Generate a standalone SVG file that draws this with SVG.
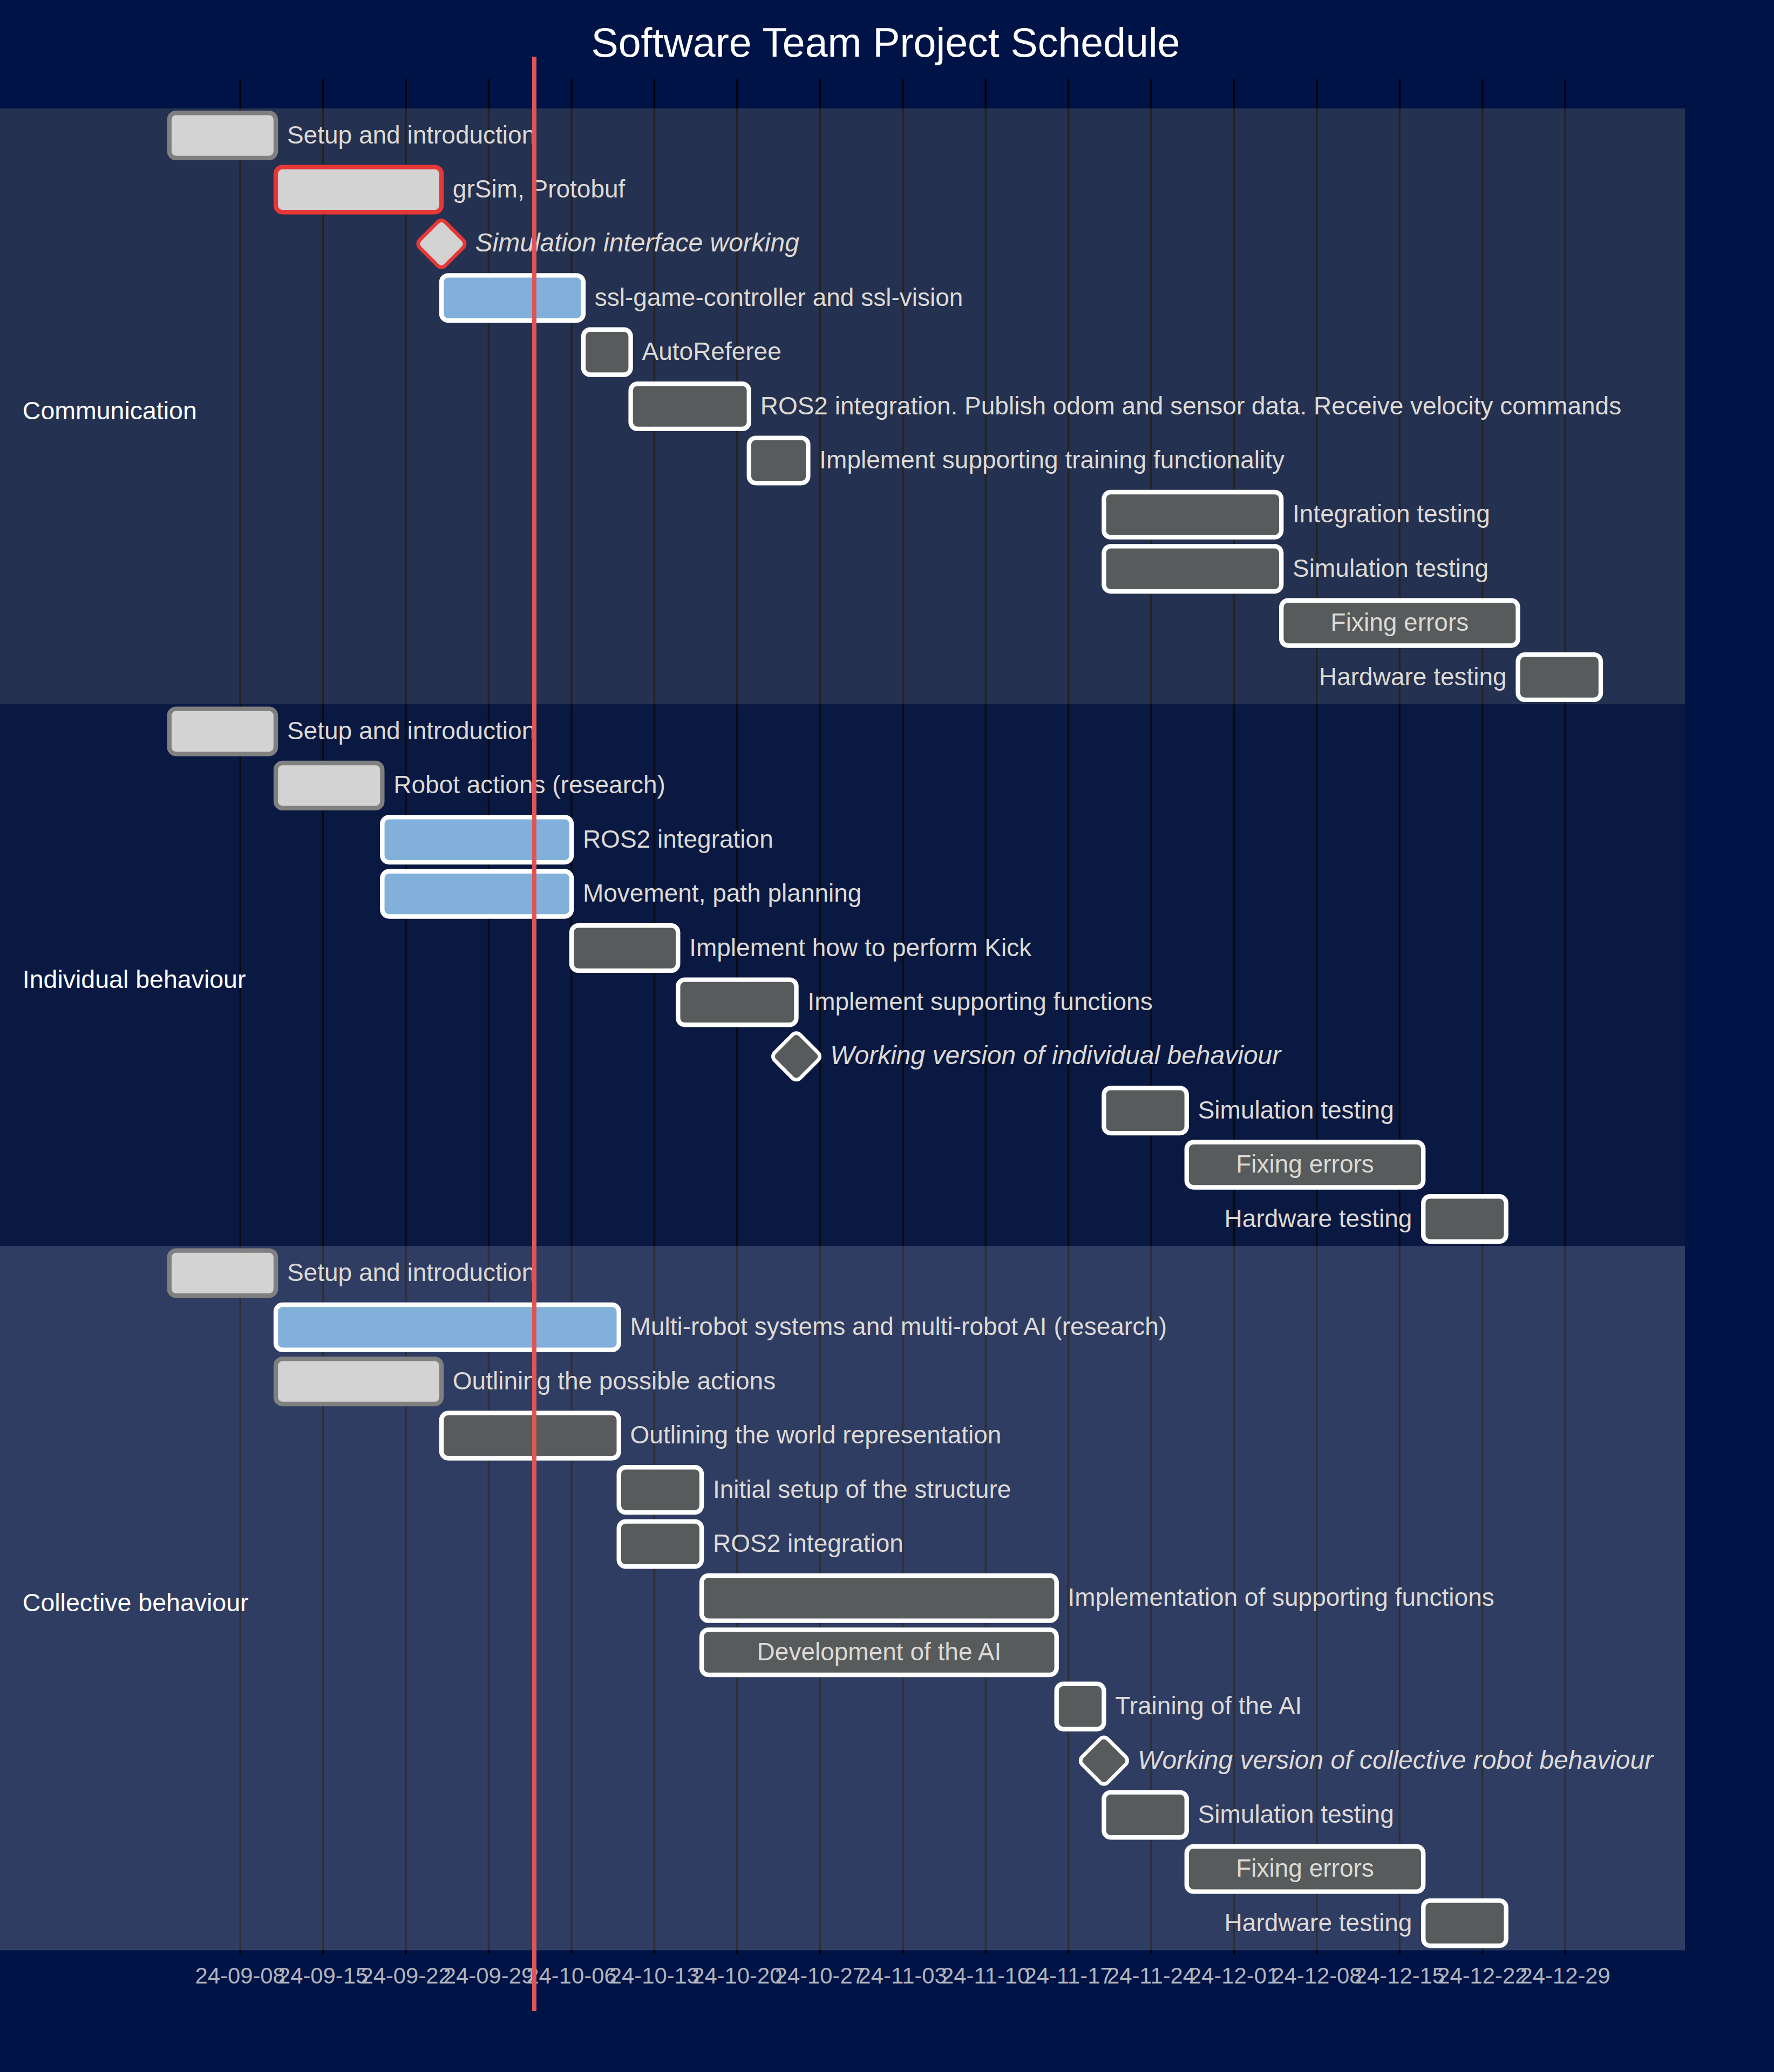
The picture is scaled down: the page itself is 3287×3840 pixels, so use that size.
<svg xmlns="http://www.w3.org/2000/svg" width="3287" height="3840" viewBox="0 0 3287 3840">
<style>
.bg{fill:#001346}
.sec0{fill:#B4AC76;opacity:.2}
.sec1{fill:#333333;opacity:.2}
.sec2{fill:#EAE8D9;opacity:.2}
.grid line{stroke:#000;stroke-opacity:.85;stroke-width:3.5}
.tick{font-family:"Liberation Sans",Arial,sans-serif;font-size:41.8px;fill:#b0b4bc;text-anchor:middle}
.bar{stroke-width:8.37}
.done{fill:#d3d3d3;stroke:#808080}
.critdone{fill:#d3d3d3;stroke:#e83737}
.active{fill:#81b1db;stroke:#ffffff}
.norm{fill:#575b5b;stroke:#ffffff}
.tt{font-family:"Liberation Sans",Arial,sans-serif;font-size:46px;fill:#ddd9d5}
.mt{font-style:italic;font-size:48px}
.in{text-anchor:middle}
.left{text-anchor:end}
.sect{font-family:"Liberation Sans",Arial,sans-serif;font-size:46.5px;fill:#ffffff}
.title{font-family:"Liberation Sans",Arial,sans-serif;font-size:75.3px;fill:#ffffff;text-anchor:middle}
.today{stroke:#db5757;stroke-width:8;fill:none}
</style>
<rect class="bg" x="0" y="0" width="3287" height="3840"/>
<text class="title" x="1641" y="105">Software Team Project Schedule</text>
<g id="grid" class="grid">
<line x1="445.2" y1="146" x2="445.2" y2="3622"/>
<line x1="598.6" y1="146" x2="598.6" y2="3622"/>
<line x1="752.1" y1="146" x2="752.1" y2="3622"/>
<line x1="905.5" y1="146" x2="905.5" y2="3622"/>
<line x1="1059" y1="146" x2="1059" y2="3622"/>
<line x1="1212.4" y1="146" x2="1212.4" y2="3622"/>
<line x1="1365.8" y1="146" x2="1365.8" y2="3622"/>
<line x1="1519.3" y1="146" x2="1519.3" y2="3622"/>
<line x1="1672.7" y1="146" x2="1672.7" y2="3622"/>
<line x1="1826.2" y1="146" x2="1826.2" y2="3622"/>
<line x1="1979.6" y1="146" x2="1979.6" y2="3622"/>
<line x1="2133" y1="146" x2="2133" y2="3622"/>
<line x1="2286.5" y1="146" x2="2286.5" y2="3622"/>
<line x1="2439.9" y1="146" x2="2439.9" y2="3622"/>
<line x1="2593.4" y1="146" x2="2593.4" y2="3622"/>
<line x1="2746.8" y1="146" x2="2746.8" y2="3622"/>
<line x1="2900.2" y1="146" x2="2900.2" y2="3622"/>
</g>
<g id="axis-labels">
<text class="tick" x="445.2" y="3676">24-09-08</text>
<text class="tick" x="598.6" y="3676">24-09-15</text>
<text class="tick" x="752.1" y="3676">24-09-22</text>
<text class="tick" x="905.5" y="3676">24-09-29</text>
<text class="tick" x="1059" y="3676">24-10-06</text>
<text class="tick" x="1212.4" y="3676">24-10-13</text>
<text class="tick" x="1365.8" y="3676">24-10-20</text>
<text class="tick" x="1519.3" y="3676">24-10-27</text>
<text class="tick" x="1672.7" y="3676">24-11-03</text>
<text class="tick" x="1826.2" y="3676">24-11-10</text>
<text class="tick" x="1979.6" y="3676">24-11-17</text>
<text class="tick" x="2133" y="3676">24-11-24</text>
<text class="tick" x="2286.5" y="3676">24-12-01</text>
<text class="tick" x="2439.9" y="3676">24-12-08</text>
<text class="tick" x="2593.4" y="3676">24-12-15</text>
<text class="tick" x="2746.8" y="3676">24-12-22</text>
<text class="tick" x="2900.2" y="3676">24-12-29</text>
</g>
<g id="sections">
<rect class="sec0" x="0" y="200.8" width="3122" height="1104.4"/>
<rect class="sec1" x="0" y="1305.2" width="3122" height="1004"/>
<rect class="sec2" x="0" y="2309.2" width="3122" height="1305.2"/>
</g>
<g id="section-titles">
<text class="sect" x="41.8" y="777">Communication</text>
<text class="sect" x="41.8" y="1831">Individual behaviour</text>
<text class="sect" x="41.8" y="2986">Collective behaviour</text>
</g>
<g id="connectors"></g>
<g id="comm-setup"><rect class="bar done" x="313.7" y="209.2" width="197.3" height="83.66" rx="12.5"/><text class="tt" x="531.9" y="265.6">Setup and introduction</text></g>
<g id="comm-grsim"><rect class="bar critdone" x="511" y="309.6" width="306.9" height="83.66" rx="12.5"/><text class="tt" x="838.8" y="366">grSim, Protobuf</text></g>
<g id="comm-milestone"><rect class="bar critdone" x="776.1" y="410" width="83.66" height="83.66" rx="12.5" transform="translate(817.9 451.8) rotate(45) scale(0.8) translate(-817.9 -451.8)"/><text class="tt mt" x="880.6" y="466.4">Simulation interface working</text></g>
<g id="comm-ssl"><rect class="bar active" x="817.9" y="510.4" width="263" height="83.66" rx="12.5"/><text class="tt" x="1101.8" y="566.8">ssl-game-controller and ssl-vision</text></g>
<g id="comm-autoref"><rect class="bar norm" x="1080.9" y="610.8" width="87.7" height="83.66" rx="12.5"/><text class="tt" x="1189.5" y="667.2">AutoReferee</text></g>
<g id="comm-ros2"><rect class="bar norm" x="1168.6" y="711.2" width="219.2" height="83.66" rx="12.5"/><text class="tt" x="1408.7" y="767.6">ROS2 integration. Publish odom and sensor data. Receive velocity commands</text></g>
<g id="comm-training"><rect class="bar norm" x="1387.8" y="811.6" width="109.6" height="83.66" rx="12.5"/><text class="tt" x="1518.3" y="868">Implement supporting training functionality</text></g>
<g id="comm-integration"><rect class="bar norm" x="2045.4" y="912" width="328.8" height="83.66" rx="12.5"/><text class="tt" x="2395.1" y="968.4">Integration testing</text></g>
<g id="comm-simtest"><rect class="bar norm" x="2045.4" y="1012.4" width="328.8" height="83.66" rx="12.5"/><text class="tt" x="2395.1" y="1068.8">Simulation testing</text></g>
<g id="comm-fixing"><rect class="bar norm" x="2374.2" y="1112.8" width="438.4" height="83.66" rx="12.5"/><text class="tt in" x="2593.4" y="1169.2">Fixing errors</text></g>
<g id="comm-hardware"><rect class="bar norm" x="2812.6" y="1213.2" width="153.4" height="83.66" rx="12.5"/><text class="tt left" x="2791.7" y="1269.6">Hardware testing</text></g>
<g id="ind-setup"><rect class="bar done" x="313.7" y="1313.6" width="197.3" height="83.66" rx="12.5"/><text class="tt" x="531.9" y="1370">Setup and introduction</text></g>
<g id="ind-robot-actions"><rect class="bar done" x="511" y="1414" width="197.3" height="83.66" rx="12.5"/><text class="tt" x="729.2" y="1470.4">Robot actions (research)</text></g>
<g id="ind-ros2"><rect class="bar active" x="708.3" y="1514.4" width="350.7" height="83.66" rx="12.5"/><text class="tt" x="1079.9" y="1570.8">ROS2 integration</text></g>
<g id="ind-movement"><rect class="bar active" x="708.3" y="1614.8" width="350.7" height="83.66" rx="12.5"/><text class="tt" x="1079.9" y="1671.2">Movement, path planning</text></g>
<g id="ind-kick"><rect class="bar norm" x="1059" y="1715.2" width="197.3" height="83.66" rx="12.5"/><text class="tt" x="1277.2" y="1771.6">Implement how to perform Kick</text></g>
<g id="ind-supporting"><rect class="bar norm" x="1256.3" y="1815.6" width="219.2" height="83.66" rx="12.5"/><text class="tt" x="1496.4" y="1872">Implement supporting functions</text></g>
<g id="ind-milestone"><rect class="bar norm" x="1433.7" y="1916" width="83.66" height="83.66" rx="12.5" transform="translate(1475.5 1957.8) rotate(45) scale(0.8) translate(-1475.5 -1957.8)"/><text class="tt mt" x="1538.2" y="1972.4">Working version of individual behaviour</text></g>
<g id="ind-simtest"><rect class="bar norm" x="2045.4" y="2016.4" width="153.4" height="83.66" rx="12.5"/><text class="tt" x="2219.7" y="2072.8">Simulation testing</text></g>
<g id="ind-fixing"><rect class="bar norm" x="2198.8" y="2116.8" width="438.4" height="83.66" rx="12.5"/><text class="tt in" x="2418" y="2173.2">Fixing errors</text></g>
<g id="ind-hardware"><rect class="bar norm" x="2637.2" y="2217.2" width="153.5" height="83.66" rx="12.5"/><text class="tt left" x="2616.3" y="2273.6">Hardware testing</text></g>
<g id="col-setup"><rect class="bar done" x="313.7" y="2317.6" width="197.3" height="83.66" rx="12.5"/><text class="tt" x="531.9" y="2374">Setup and introduction</text></g>
<g id="col-multirobot"><rect class="bar active" x="511" y="2418" width="635.7" height="83.66" rx="12.5"/><text class="tt" x="1167.6" y="2474.4">Multi-robot systems and multi-robot AI (research)</text></g>
<g id="col-actions"><rect class="bar done" x="511" y="2518.4" width="306.9" height="83.66" rx="12.5"/><text class="tt" x="838.8" y="2574.8">Outlining the possible actions</text></g>
<g id="col-world"><rect class="bar norm" x="817.9" y="2618.8" width="328.8" height="83.66" rx="12.5"/><text class="tt" x="1167.6" y="2675.2">Outlining the world representation</text></g>
<g id="col-initial"><rect class="bar norm" x="1146.7" y="2719.2" width="153.4" height="83.66" rx="12.5"/><text class="tt" x="1321" y="2775.6">Initial setup of the structure</text></g>
<g id="col-ros2"><rect class="bar norm" x="1146.7" y="2819.6" width="153.4" height="83.66" rx="12.5"/><text class="tt" x="1321" y="2876">ROS2 integration</text></g>
<g id="col-supporting"><rect class="bar norm" x="1300.1" y="2920" width="657.6" height="83.66" rx="12.5"/><text class="tt" x="1978.6" y="2976.4">Implementation of supporting functions</text></g>
<g id="col-dev-ai"><rect class="bar norm" x="1300.1" y="3020.4" width="657.6" height="83.66" rx="12.5"/><text class="tt in" x="1628.9" y="3076.8">Development of the AI</text></g>
<g id="col-training"><rect class="bar norm" x="1957.7" y="3120.8" width="87.7" height="83.66" rx="12.5"/><text class="tt" x="2066.3" y="3177.2">Training of the AI</text></g>
<g id="col-milestone"><rect class="bar norm" x="2003.6" y="3221.2" width="83.66" height="83.66" rx="12.5" transform="translate(2045.4 3263) rotate(45) scale(0.8) translate(-2045.4 -3263)"/><text class="tt mt" x="2108.1" y="3277.6">Working version of collective robot behaviour</text></g>
<g id="col-simtest"><rect class="bar norm" x="2045.4" y="3321.6" width="153.4" height="83.66" rx="12.5"/><text class="tt" x="2219.7" y="3378">Simulation testing</text></g>
<g id="col-fixing"><rect class="bar norm" x="2198.8" y="3422" width="438.4" height="83.66" rx="12.5"/><text class="tt in" x="2418" y="3478.4">Fixing errors</text></g>
<g id="col-hardware"><rect class="bar norm" x="2637.2" y="3522.4" width="153.5" height="83.66" rx="12.5"/><text class="tt left" x="2616.3" y="3578.8">Hardware testing</text></g>
<g id="today"><line class="today" x1="990" y1="105" x2="990" y2="3727"/></g>
</svg>
